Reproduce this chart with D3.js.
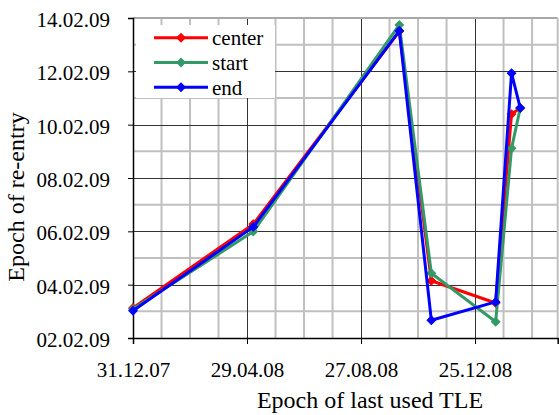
<!DOCTYPE html>
<html>
<head>
<meta charset="utf-8">
<script src="https://cdn.jsdelivr.net/npm/d3@7"></script>
<style>
  html, body { margin: 0; padding: 0; background: #fff; }
  svg { display: block; }
  text { font-family: "Liberation Serif", "Times New Roman", serif; fill: #000; }
</style>
</head>
<body>
<svg id="chart" width="559" height="415"></svg>
<script>
// ---- Data (epoch of last used TLE -> predicted epoch of re-entry) ----
const tleEpochs = [
  "2007-12-31T00:00", "2008-05-05T14:00", "2008-10-06T07:00", "2008-11-09T00:00",
  "2009-01-15T17:00", "2009-02-01T10:00", "2009-02-10T14:00"
];
const centerValues = [
  "2009-02-03T03:00", "2009-02-06T06:30", "2009-02-13T12:00", "2009-02-04T03:30",
  "2009-02-03T07:30", "2009-02-10T09:30", "2009-02-10T15:00"
];
const startValues = [
  "2009-02-03T02:00", "2009-02-05T23:45", "2009-02-13T17:45", "2009-02-04T10:20",
  "2009-02-02T14:40", "2009-02-09T02:40", "2009-02-10T15:00"
];
const endValues = [
  "2009-02-03T00:30", "2009-02-06T04:00", "2009-02-13T12:30", "2009-02-02T16:00",
  "2009-02-03T08:30", "2009-02-11T22:20", "2009-02-10T15:00"
];
const seriesNames = ["center", "start", "end"];
const xTickValues = ["2007-12-31", "2008-04-29", "2008-08-27", "2008-12-25"];
const yTickValues = ["2009-02-02", "2009-02-04", "2009-02-06", "2009-02-08",
                     "2009-02-10", "2009-02-12", "2009-02-14"];
const xAxisTitle = "Epoch of last used TLE";
const yAxisTitle = "Epoch of re-entry";

// ---- Setup ----
const parse = d3.utcParse("%Y-%m-%dT%H:%M");
const parseDay = d3.utcParse("%Y-%m-%d");
const fmt = d3.utcFormat("%d.%m.%y");
const colors = ["#ff0000", "#339966", "#0000ff"];
const seriesValues = [centerValues, startValues, endValues];

const pLeft = 133, pRight = 557.7, pTop = 18, pBottom = 338;

const x = d3.scaleUtc()
  .domain([parseDay("2007-12-31"), parseDay("2009-03-22")])
  .range([pLeft, pRight]);
const y = d3.scaleUtc()
  .domain([parseDay("2009-02-02"), parseDay("2009-02-14")])
  .range([pBottom, pTop]);

const svg = d3.select("#chart");

// minor gridlines
const xMinor = d3.utcDay.range(parseDay("2007-12-31"), x.domain()[1], 1)
  .filter((d, i) => i % 30 === 0 && i % 120 !== 0);
const yMinor = d3.utcDay.range(parseDay("2009-02-03"), y.domain()[1], 2);

const grid = svg.append("g");
grid.selectAll("line.xm").data(xMinor).join("line")
  .attr("x1", d => x(d)).attr("x2", d => x(d))
  .attr("y1", pTop).attr("y2", pBottom)
  .attr("stroke", "#c0c0c0").attr("stroke-width", 2);
grid.selectAll("line.ym").data(yMinor).join("line")
  .attr("x1", pLeft).attr("x2", pRight)
  .attr("y1", d => y(d)).attr("y2", d => y(d))
  .attr("stroke", "#c0c0c0").attr("stroke-width", 2);

// major gridlines
const xMajor = xTickValues.map(parseDay).slice(1);
const yMajor = yTickValues.map(parseDay).slice(1, -1);
grid.selectAll("line.xM").data(xMajor).join("line")
  .attr("x1", d => Math.round(x(d)) + 0.5).attr("x2", d => Math.round(x(d)) + 0.5)
  .attr("y1", pTop).attr("y2", pBottom)
  .attr("stroke", "#333").attr("stroke-width", 1);
grid.selectAll("line.yM").data(yMajor).join("line")
  .attr("x1", pLeft).attr("x2", pRight)
  .attr("y1", d => Math.round(y(d)) + 0.5).attr("y2", d => Math.round(y(d)) + 0.5)
  .attr("stroke", "#333").attr("stroke-width", 1);

// plot border (top / right)
grid.append("line").attr("x1", pLeft).attr("x2", pRight).attr("y1", pTop).attr("y2", pTop)
  .attr("stroke", "#a8a8a8").attr("stroke-width", 2);
grid.append("line").attr("x1", pRight).attr("x2", pRight).attr("y1", pTop).attr("y2", pBottom)
  .attr("stroke", "#c0c0c0").attr("stroke-width", 2);

// axes
const xAxis = d3.axisBottom(x).tickValues(xTickValues.map(parseDay)).tickFormat(fmt)
  .tickSizeOuter(0).tickSize(6).tickPadding(10);
const yAxis = d3.axisLeft(y).tickValues(yTickValues.map(parseDay)).tickFormat(fmt)
  .tickSizeOuter(0).tickSize(5).tickPadding(18);

const gx = svg.append("g").attr("transform", `translate(0,${pBottom})`).call(xAxis);
const gy = svg.append("g").attr("transform", `translate(${pLeft},0)`).call(yAxis);
[gx, gy].forEach(g => {
  g.selectAll("path").attr("stroke", "#000").attr("stroke-width", 1.5);
  g.selectAll("line").attr("stroke", "#000").attr("stroke-width", 1);
  g.selectAll("text").style("font-family", '"Liberation Serif", serif')
    .style("font-size", "21px").attr("fill", "#000");
});
gx.selectAll("text").attr("dy", "1.1em");
gy.selectAll("text").attr("dy", "0.4em");

// legend background
const legendBox = { x0: 136, x1: 275, y0: 25, y1: 98 };
svg.append("rect").attr("x", legendBox.x0).attr("y", legendBox.y0)
  .attr("width", legendBox.x1 - legendBox.x0).attr("height", legendBox.y1 - legendBox.y0)
  .attr("fill", "#fff");

// series
const line = d3.line().x(d => x(d[0])).y(d => y(d[1]));

seriesValues.forEach((vals, si) => {
  const pts = tleEpochs.map((t, i) => [parse(t), parse(vals[i])]);
  const g = svg.append("g");
  g.append("path").datum(pts).attr("d", line)
    .attr("fill", "none").attr("stroke", colors[si]).attr("stroke-width", 3)
    .attr("stroke-linejoin", "round");
  g.selectAll("path.m").data(pts).join("path")
    .attr("d", d3.symbol().type(d3.symbolSquare).size(36))
    .attr("transform", d => `translate(${x(d[0])},${y(d[1])}) rotate(45)`)
    .attr("fill", colors[si]).attr("stroke", colors[si]).attr("stroke-width", 1);
});

// legend entries
seriesNames.forEach((name, i) => {
  const ly = 37.7 + i * 24.8;
  const g = svg.append("g");
  g.append("line").attr("x1", 154).attr("x2", 208).attr("y1", ly).attr("y2", ly)
    .attr("stroke", colors[i]).attr("stroke-width", 3);
  g.append("path").attr("d", d3.symbol().type(d3.symbolSquare).size(36))
    .attr("transform", `translate(181,${ly}) rotate(45)`)
    .attr("fill", colors[i]).attr("stroke", colors[i]).attr("stroke-width", 1);
  g.append("text").attr("x", 212).attr("y", ly + 7.5)
    .style("font-size", "21px").text(name);
});

// axis titles
svg.append("text").attr("x", 370).attr("y", 408).attr("text-anchor", "middle")
  .style("font-size", "24px").text(xAxisTitle);
svg.append("text").attr("transform", "translate(24,197) rotate(-90)")
  .attr("text-anchor", "middle").style("font-size", "24px").text(yAxisTitle);
</script>
</body>
</html>
